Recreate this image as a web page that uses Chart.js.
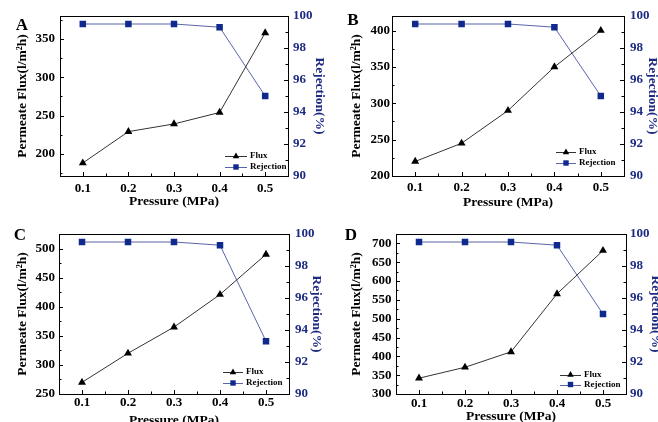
<!DOCTYPE html>
<html>
<head>
<meta charset="utf-8">
<script src="https://cdn.jsdelivr.net/npm/chart.js@4/dist/chart.umd.min.js"></script>
<style>
  html, body { margin: 0; padding: 0; background: #fff; overflow: hidden; width: 658px; height: 422px; }
  canvas { position: absolute; }
</style>
</head>
<body>
<canvas id="cA"></canvas>
<canvas id="cB"></canvas>
<canvas id="cC"></canvas>
<canvas id="cD"></canvas>
<script>
// ---- data ----
const pressure = ['0.1', '0.2', '0.3', '0.4', '0.5'];
const fluxA = [188, 229, 239, 254, 358];
const fluxB = [220, 245, 290, 350, 400];
const fluxC = [270, 320, 365, 421, 490];
const fluxD = [342, 371, 412, 566, 681];
const rejectionA = [99.5, 99.5, 99.5, 99.3, 95.0];
const rejectionB = [99.5, 99.5, 99.5, 99.3, 95.0];
const rejectionC = [99.5, 99.5, 99.5, 99.3, 93.3];
const rejectionD = [99.5, 99.5, 99.5, 99.3, 95.0];
const fluxTicksA = [200, 250, 300, 350];
const fluxTicksB = [200, 250, 300, 350, 400];
const fluxTicksC = [250, 300, 350, 400, 450, 500];
const fluxTicksD = [300, 350, 400, 450, 500, 550, 600, 650, 700];
const fluxRangeA = [171, 380];
const fluxRangeB = [200, 420];
const fluxRangeC = [250, 525];
const fluxRangeD = [300, 725];
const rejectionTicks = [90, 92, 94, 96, 98, 100];
const rejectionRange = [90, 100];
const seriesNames = ['Flux', 'Rejection'];
const panelLetters = ['A', 'B', 'C', 'D'];
const xTitle = 'Pressure (MPa)';
const yTitle = 'Permeate Flux(l/m\u00B2h)';
const y1Title = 'Rejection(%)';

// ---- styles / layout ----
const SERIF = "'Liberation Serif', 'Times New Roman', serif";
const NAVY = '#1d2a82';
const FLUX_LINE = '#333333';
const REJ_LINE = '#5a64aa';
const REJ_MARK = '#0f2a8c';

const layouts = [
  { left: 0,   top: 0,   w: 330, h: 211, padT: 16, yL: 60, yR: 42, xH: 35, lTitle: 14, rTitle: 2, xTitlePad: 1, xTick: 5, yLTick: 5, yRTick: 5, letter: [22, 26], leg: { dx: 63, len: 22, r1: 20, r2: 9 } },
  { left: 328, top: 0,   w: 340, h: 211, padT: 16, yL: 64, yR: 44, xH: 35, lTitle: 20, rTitle: 7, xTitlePad: 0.5, xTick: 4, yLTick: 2, yRTick: 6, letter: [25, 21], leg: { dx: 68, len: 20, r1: 24, r2: 13 } },
  { left: 0,   top: 211, w: 330, h: 220, padT: 23, yL: 59, yR: 41, xH: 37, lTitle: 14, rTitle: 5, xTitlePad: 2, xTick: 1, yLTick: 4, yRTick: 6, letter: [20, 25], leg: { dx: 66, len: 20, r1: 22, r2: 11 } },
  { left: 328, top: 211, w: 340, h: 220, padT: 23, yL: 68, yR: 42, xH: 37, lTitle: 20, rTitle: 4, xTitlePad: 6, xTick: 2, yLTick: 4.5, yRTick: 4, letter: [23, 25], leg: { dx: 66, len: 21, r1: 19.5, r2: 9.5 } }
];

function drawMarker(ctx, style, x, y, r, color) {
  ctx.fillStyle = color;
  ctx.beginPath();
  if (style === 'triangle') {
    ctx.moveTo(x, y - r);
    ctx.lineTo(x + r * 0.9, y + r * 0.6);
    ctx.lineTo(x - r * 0.9, y + r * 0.6);
    ctx.closePath();
  } else {
    ctx.rect(x - r * 0.75, y - r * 0.75, r * 1.5, r * 1.5);
  }
  ctx.fill();
}

const framePlugin = {
  id: 'frameTicks',
  afterDatasetsDraw(chart, args, opts) {
    const { ctx, chartArea: a } = chart;
    const L = opts.layout;
    ctx.save();
    ctx.strokeStyle = '#000';
    ctx.lineWidth = 1;
    // top frame line
    ctx.beginPath();
    ctx.moveTo(a.left, a.top + 0.5);
    ctx.lineTo(a.right, a.top + 0.5);
    ctx.stroke();
    const major = 4, minor = 2.5;
    // x axis ticks (inward)
    const sx = chart.scales.x;
    const xp = sx.ticks.map((t, i) => sx.getPixelForTick(i));
    ctx.beginPath();
    xp.forEach((p, i) => {
      ctx.moveTo(Math.round(p) + 0.5, a.bottom);
      ctx.lineTo(Math.round(p) + 0.5, a.bottom - major);
      if (i < xp.length - 1) {
        const m = (p + xp[i + 1]) / 2;
        ctx.moveTo(Math.round(m) + 0.5, a.bottom);
        ctx.lineTo(Math.round(m) + 0.5, a.bottom - minor);
      }
    });
    ctx.stroke();
    // y axes ticks (inward)
    for (const id of ['y', 'y1']) {
      const s = chart.scales[id];
      const vals = s.ticks.map(t => t.value);
      const edge = id === 'y' ? a.left : a.right;
      const dir = id === 'y' ? 1 : -1;
      ctx.beginPath();
      const step = vals[1] - vals[0];
      const minors = [vals[0] - step / 2, ...vals.map(v => v + step / 2)];
      vals.forEach(v => {
        const p = Math.round(s.getPixelForValue(v)) + 0.5;
        ctx.moveTo(edge, p); ctx.lineTo(edge + dir * major, p);
      });
      minors.forEach(v => {
        const p = s.getPixelForValue(v);
        if (p > a.top + 1 && p < a.bottom - 1) {
          const q = Math.round(p) + 0.5;
          ctx.moveTo(edge, q); ctx.lineTo(edge + dir * minor, q);
        }
      });
      ctx.stroke();
    }
    // legend
    const lg = L.leg;
    const x0 = a.right - lg.dx;
    ctx.font = "bold 9px " + SERIF;
    ctx.textBaseline = 'middle';
    ctx.textAlign = 'left';
    chart.data.datasets.forEach((ds, i) => {
      const y = a.bottom - (i === 0 ? lg.r1 : lg.r2);
      ctx.strokeStyle = ds.borderColor;
      ctx.beginPath();
      ctx.moveTo(x0, Math.round(y) + 0.5);
      ctx.lineTo(x0 + lg.len, Math.round(y) + 0.5);
      ctx.stroke();
      drawMarker(ctx, ds.pointStyle, x0 + lg.len / 2, y, 3.6, ds.pointBackgroundColor);
      ctx.fillStyle = '#000';
      ctx.fillText(ds.label, x0 + lg.len + 3, y);
    });
    // panel letter
    ctx.font = "bold 17px " + SERIF;
    ctx.textAlign = 'center';
    ctx.fillStyle = '#000';
    ctx.fillText(opts.letter, L.letter[0], L.letter[1]);
    ctx.restore();
  }
};

function makeChart(idx, flux, rejection, fluxRange, fluxTicks) {
  const L = layouts[idx];
  const cv = document.getElementById('c' + panelLetters[idx]);
  cv.width = L.w; cv.height = L.h;
  cv.style.left = L.left + 'px'; cv.style.top = L.top + 'px';
  cv.style.width = L.w + 'px'; cv.style.height = L.h + 'px';
  const tickFont = { family: SERIF, size: 13, weight: 'bold' };
  const titleFont = { family: SERIF, size: 13.5, weight: 'bold' };
  const noGrid = { display: false, drawTicks: false, tickLength: 0 };
  return new Chart(cv, {
    type: 'line',
    data: {
      labels: pressure,
      datasets: [
        {
          label: seriesNames[0], data: flux, yAxisID: 'y',
          borderColor: FLUX_LINE, borderWidth: 1,
          pointStyle: 'triangle', pointRadius: 4.6,
          pointBackgroundColor: '#000', pointBorderColor: '#000', pointBorderWidth: 0,
          tension: 0, fill: false
        },
        {
          label: seriesNames[1], data: rejection, yAxisID: 'y1',
          borderColor: REJ_LINE, borderWidth: 1,
          pointStyle: 'rect', pointRadius: 4.6,
          pointBackgroundColor: REJ_MARK, pointBorderColor: REJ_MARK, pointBorderWidth: 0,
          tension: 0, fill: false
        }
      ]
    },
    options: {
      responsive: false,
      animation: false,
      devicePixelRatio: 1,
      layout: { padding: { top: L.padT, left: 0, right: 0, bottom: 0 } },
      plugins: {
        legend: { display: false },
        tooltip: { enabled: false },
        frameTicks: { layout: L, letter: panelLetters[idx] }
      },
      scales: {
        x: {
          type: 'category',
          offset: true,
          grid: noGrid,
          border: { display: true, color: '#000', width: 1 },
          ticks: { color: '#000', font: tickFont, padding: L.xTick, maxRotation: 0, autoSkip: false },
          title: { display: true, text: xTitle, color: '#000', font: titleFont, padding: { top: 0, bottom: L.xTitlePad } },
          afterFit: s => { s.height = L.xH; }
        },
        y: {
          type: 'linear', position: 'left',
          min: fluxRange[0], max: fluxRange[1],
          grid: noGrid,
          border: { display: true, color: '#000', width: 1 },
          ticks: { color: '#000', font: tickFont, padding: L.yLTick },
          afterBuildTicks: s => { s.ticks = fluxTicks.map(v => ({ value: v })); },
          title: { display: true, text: yTitle, color: '#000', font: titleFont, padding: { top: L.lTitle, bottom: 0 } },
          afterFit: s => { s.width = L.yL; }
        },
        y1: {
          type: 'linear', position: 'right',
          min: rejectionRange[0], max: rejectionRange[1],
          grid: noGrid,
          border: { display: true, color: '#000', width: 1 },
          ticks: { color: NAVY, font: tickFont, padding: L.yRTick },
          afterBuildTicks: s => { s.ticks = rejectionTicks.map(v => ({ value: v })); },
          title: { display: true, text: y1Title, color: NAVY, font: titleFont, padding: { top: L.rTitle, bottom: 0 } },
          afterFit: s => { s.width = L.yR; }
        }
      }
    },
    plugins: [framePlugin]
  });
}

makeChart(0, fluxA, rejectionA, fluxRangeA, fluxTicksA);
makeChart(1, fluxB, rejectionB, fluxRangeB, fluxTicksB);
makeChart(2, fluxC, rejectionC, fluxRangeC, fluxTicksC);
makeChart(3, fluxD, rejectionD, fluxRangeD, fluxTicksD);
</script>
</body>
</html>
